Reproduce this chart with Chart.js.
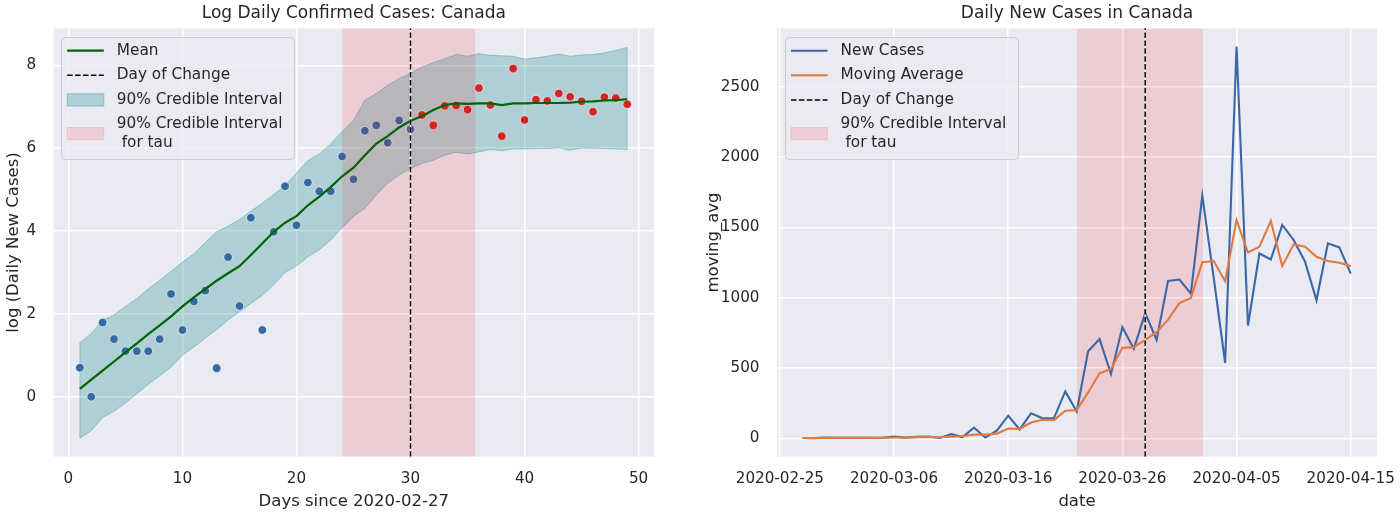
<!DOCTYPE html>
<html>
<head>
<meta charset="utf-8">
<script src="https://cdn.jsdelivr.net/npm/chart.js@4.4.1/dist/chart.umd.min.js"></script>
<style>
html, body { margin: 0; padding: 0; background: #ffffff; }
#wrap { position: relative; width: 1400px; height: 516px; overflow: hidden; }
canvas { position: absolute; top: 0; }
#c1 { left: 0; }
#c2 { left: 700px; }
</style>
</head>
<body>
<div id="wrap">
  <canvas id="c1" width="700" height="516"></canvas>
  <canvas id="c2" width="700" height="516"></canvas>
</div>
<script>
// ================= LEFT PANEL DATA =================
const days = [1,2,3,4,5,6,7,8,9,10,11,12,13,14,15,16,17,18,19,20,21,22,23,24,25,
              26,27,28,29,30,31,32,33,34,35,36,37,38,39,40,41,42,43,44,45,46,47,48,49];
const logCases = [0.70,0.00,1.79,1.39,1.10,1.10,1.10,1.39,2.48,1.61,2.30,2.56,0.69,3.37,2.19,4.32,1.61,3.98,5.08,4.14,
                  5.17,4.96,4.96,5.80,5.25,6.42,6.55,6.13,6.67,6.46,6.80,6.55,7.02,7.03,6.93,7.45,7.04,6.29,7.92,6.68,
                  7.17,7.14,7.32,7.24,7.13,6.88,7.23,7.21,7.06];
const meanLog = [0.19,0.41,0.63,0.85,1.07,1.29,1.51,1.72,1.94,2.18,2.40,2.60,2.80,2.98,3.15,3.42,3.70,3.98,4.20,4.36,
                 4.62,4.83,5.06,5.32,5.53,5.83,6.11,6.29,6.50,6.66,6.77,6.92,7.04,7.08,7.07,7.08,7.08,7.04,7.08,7.08,
                 7.09,7.09,7.09,7.10,7.12,7.13,7.15,7.16,7.18];
const upperCI = [1.31,1.52,1.84,1.98,2.18,2.37,2.60,2.81,3.02,3.25,3.45,3.72,3.98,4.12,4.28,4.48,4.67,4.88,5.10,5.40,
                 5.70,5.86,6.10,6.40,6.67,7.16,7.32,7.52,7.68,7.80,7.96,8.06,8.16,8.26,8.22,8.28,8.24,8.23,8.22,8.15,
                 8.18,8.22,8.27,8.22,8.25,8.26,8.30,8.36,8.43];
const lowerCI = [-1.00,-0.82,-0.50,-0.35,-0.15,0.07,0.30,0.50,0.72,1.00,1.20,1.42,1.62,1.85,2.05,2.25,2.45,2.70,3.00,3.15,
                 3.38,3.55,3.78,4.08,4.35,4.55,4.87,5.15,5.35,5.51,5.63,5.71,5.83,5.90,5.86,5.91,5.97,5.94,5.98,5.98,
                 5.99,5.99,6.01,5.95,6.00,6.00,5.99,5.98,5.97];
const leftChangeDay = 30;
const leftTauLow = 24.0;
const leftTauHigh = 35.7;
const leftXTicks = [0,10,20,30,40,50];
const leftYTicks = [0,2,4,6,8];

// ================= RIGHT PANEL DATA =================
const dates = ['2020-02-27','2020-02-28','2020-02-29','2020-03-01','2020-03-02','2020-03-03','2020-03-04','2020-03-05',
               '2020-03-06','2020-03-07','2020-03-08','2020-03-09','2020-03-10','2020-03-11','2020-03-12','2020-03-13',
               '2020-03-14','2020-03-15','2020-03-16','2020-03-17','2020-03-18','2020-03-19','2020-03-20','2020-03-21',
               '2020-03-22','2020-03-23','2020-03-24','2020-03-25','2020-03-26','2020-03-27','2020-03-28','2020-03-29',
               '2020-03-30','2020-03-31','2020-04-01','2020-04-02','2020-04-03','2020-04-04','2020-04-05','2020-04-06',
               '2020-04-07','2020-04-08','2020-04-09','2020-04-10','2020-04-11','2020-04-12','2020-04-13','2020-04-14',
               '2020-04-15'];
const newCases = [2,1,6,4,3,3,3,4,12,5,10,13,2,29,9,75,5,54,161,63,177,142,142,333,190,619,705,457,790,636,
                  890,700,1119,1129,1029,1726,1140,536,2786,802,1314,1271,1517,1410,1255,981,1386,1357,1171];
const movingAvg = [2,2,3,3,3,3,3,4,5,6,7,8,7,12,14,26,26,33,69,67,112,132,129,196,200,326,462,493,643,648,
                   700,755,843,962,998,1252,1260,1117,1552,1321,1362,1545,1224,1379,1362,1290,1260,1248,1224];
const rightBaseDate = '2020-02-25';
const rightChangeDay = 32.0;   // days after 2020-02-25 (2020-03-28)
const rightTauLow = 26.0;      // days after 2020-02-25
const rightTauHigh = 37.07;    // days after 2020-02-25
const rightXTickLabels = ['2020-02-25','2020-03-06','2020-03-16','2020-03-26','2020-04-05','2020-04-15'];
const rightYTicks = [0,500,1000,1500,2000,2500];

// ================= STYLE / LAYOUT =================
const FONT = 'DejaVu Sans';
const TEXT = '#262626';
const BG = '#eaeaf2';
const TEAL_FILL = 'rgba(0,128,128,0.25)';
const TEAL_EDGE = 'rgba(0,128,128,0.32)';
const TAU_FILL = 'rgba(255,0,0,0.12)';
const BLUE_PT = '#336aa2';
const RED_PT = '#d0262a';

const leftXMin = -1.3, leftXMax = 51.35, leftYMin = -1.448, leftYMax = 8.893;
const rightXMin = -0.25, rightXMax = 52.3, rightYMin = -131, rightYMax = 2915;

Chart.defaults.font.family = FONT;
Chart.defaults.color = TEXT;

const dayOffset = s => Math.round((Date.parse(s + 'T00:00:00Z') - Date.parse(rightBaseDate + 'T00:00:00Z')) / 86400000);

const plotBg = {
  id: 'plotBg',
  beforeDraw(chart) {
    const {ctx, chartArea: a} = chart;
    ctx.save();
    ctx.fillStyle = BG;
    ctx.fillRect(a.left, a.top, a.right - a.left, a.bottom - a.top);
    ctx.restore();
  }
};

const titleOverPlot = {
  id: 'titleOverPlot',
  afterLayout(chart) {
    const t = chart.titleBlock;
    if (t) { t.left = chart.chartArea.left; t.right = chart.chartArea.right; }
  }
};

const boxLegend = {
  id: 'boxLegend',
  afterDraw(chart, args, o) {
    if (!o || !o.items) return;
    const ctx = chart.ctx, ca = chart.chartArea;
    const ds = chart.data.datasets;
    const find = lbl => ds.find(d => d.label === lbl);
    ctx.save();
    ctx.font = o.fontSize + 'px "' + o.fontFamily + '"';
    let maxW = 0, extra = 0;
    o.items.forEach(it => { extra += it.text.length - 1; it.text.forEach(t => { maxW = Math.max(maxW, ctx.measureText(t).width); }); });
    const x0 = ca.left + o.offsetX, y0 = ca.top + o.offsetY;
    const w = o.textX + maxW + o.rightPad;
    const h = o.firstRow + (o.items.length - 1) * o.rowGap + extra * o.lineGap + o.bottomPad;
    ctx.beginPath();
    ctx.roundRect(Math.round(x0) + 0.5, Math.round(y0) + 0.5, Math.round(w), Math.round(h), o.radius);
    ctx.fillStyle = o.frameFill; ctx.fill();
    ctx.lineWidth = 1; ctx.strokeStyle = o.frameEdge; ctx.stroke();
    let y = y0 + o.firstRow;
    o.items.forEach(it => {
      const d = find(it.label);
      const nl = it.text.length;
      const cy = y + (nl - 1) * o.lineGap / 2;
      const hx0 = x0 + o.handleX, hx1 = hx0 + o.handleW;
      if (it.kind === 'patch') {
        ctx.fillStyle = d.backgroundColor;
        ctx.fillRect(hx0, cy - o.patchH / 2, o.handleW, o.patchH);
        ctx.strokeStyle = d.legendEdge || d.borderColor; ctx.lineWidth = 1;
        ctx.strokeRect(hx0, cy - o.patchH / 2, o.handleW, o.patchH);
      } else {
        ctx.beginPath();
        ctx.setLineDash(d.borderDash || []);
        ctx.strokeStyle = d.borderColor; ctx.lineWidth = d.borderWidth;
        ctx.moveTo(hx0, cy); ctx.lineTo(hx1, cy); ctx.stroke();
        ctx.setLineDash([]);
      }
      ctx.fillStyle = o.color; ctx.textBaseline = 'middle'; ctx.textAlign = 'left';
      it.text.forEach((t, k) => ctx.fillText(t, x0 + o.textX, y + k * o.lineGap));
      y += o.rowGap + (nl - 1) * o.lineGap;
    });
    ctx.restore();
  }
};

const legendBase = {
  offsetX: 7.4, offsetY: 8.4, firstRow: 14, rowGap: 24.6, lineGap: 18.3, bottomPad: 16,
  handleX: 6.2, handleW: 36.6, textX: 55.8, rightPad: 11.2, patchH: 12.3,
  fontSize: 15.3, fontFamily: FONT, color: TEXT,
  frameFill: 'rgba(234,234,242,0.8)', frameEdge: '#cccccc', radius: 4
};

const fixX = h => s => { s.height = h; s.paddingLeft = 0; s.paddingRight = 0; };
const fixY = w => s => { s.width = w; s.paddingTop = 0; s.paddingBottom = 0; };

const gridOpts = { color: '#ffffff', lineWidth: 1.5, drawTicks: false };
const tickFont = { size: 15.2, family: FONT };
const axisTitleFont = { size: 16.5, family: FONT };
const titleFont = { size: 17, family: FONT, weight: 'normal', lineHeight: 1.2 };

// ================= LEFT CHART =================
const xy = (xs, ys) => xs.map((x, i) => ({x: x, y: ys[i]}));

new Chart(document.getElementById('c1'), {
  type: 'line',
  data: {
    datasets: [
      { label: 'lower', data: xy(days, lowerCI), borderColor: TEAL_EDGE, borderWidth: 1, pointRadius: 0, fill: false, order: 10 },
      { label: '90% Credible Interval', data: xy(days, upperCI), borderColor: TEAL_EDGE, borderWidth: 1, pointRadius: 0,
        backgroundColor: TEAL_FILL, fill: { target: 0 }, order: 9 },
      { label: 'ciEnds', data: [{x: days[0], y: lowerCI[0]}, {x: days[0], y: upperCI[0]}, {x: days[0], y: null},
                                {x: days[days.length-1], y: lowerCI[lowerCI.length-1]}, {x: days[days.length-1], y: upperCI[upperCI.length-1]}],
        borderColor: TEAL_EDGE, borderWidth: 1, pointRadius: 0, spanGaps: false, fill: false, order: 8 },
      { label: 'points', data: xy(days, logCases), showLine: false, order: 7,
        pointRadius: 4.3, pointBorderWidth: 0.8, pointBorderColor: 'rgba(255,255,255,0.8)',
        pointBackgroundColor: c => (c.raw && c.raw.x <= leftChangeDay) ? BLUE_PT : RED_PT },
      { label: '90% Credible Interval for tau', data: [{x: leftTauLow, y: leftYMax}, {x: leftTauHigh, y: leftYMax}],
        borderWidth: 0, borderColor: TAU_FILL, legendEdge: TAU_FILL, backgroundColor: TAU_FILL, fill: 'start', pointRadius: 0, order: 6 },
      { label: 'Mean', data: xy(days, meanLog), borderColor: '#006400', borderWidth: 2.2, pointRadius: 0, fill: false, order: 5 },
      { label: 'changeUnder', data: [{x: leftChangeDay, y: leftYMin}, {x: leftChangeDay, y: leftYMax}],
        borderColor: 'rgba(255,255,255,0.85)', borderWidth: 1.6, pointRadius: 0, fill: false, order: 4 },
      { label: 'Day of Change', data: [{x: leftChangeDay, y: leftYMin}, {x: leftChangeDay, y: leftYMax}],
        borderColor: '#000000', borderWidth: 1.5, borderDash: [5.5, 2.4], pointRadius: 0, fill: false, order: 3 }
    ]
  },
  options: {
    responsive: false, animation: false,
    layout: { padding: { left: 0, right: 46, top: 0, bottom: 0 } },
    elements: { line: { tension: 0 } },
    plugins: {
      legend: { display: false }, tooltip: { enabled: false },
      title: { display: true, text: 'Log Daily Confirmed Cases: Canada', color: TEXT, font: titleFont,
               padding: { top: 2.9, bottom: 5.0 } },
      boxLegend: Object.assign({}, legendBase, { items: [
        { label: 'Mean', kind: 'line', text: ['Mean'] },
        { label: 'Day of Change', kind: 'line', text: ['Day of Change'] },
        { label: '90% Credible Interval', kind: 'patch', text: ['90% Credible Interval'] },
        { label: '90% Credible Interval for tau', kind: 'patch', text: ['90% Credible Interval', ' for tau'] }
      ] })
    },
    scales: {
      x: { type: 'linear', min: leftXMin, max: leftXMax, grid: gridOpts, border: { display: false },
           afterBuildTicks: s => { s.ticks = leftXTicks.map(v => ({value: v})); },
           afterFit: fixX(59.3),
           ticks: { font: tickFont, color: TEXT, padding: 13.6, maxRotation: 0, minRotation: 0, autoSkip: false, callback: v => String(v) },
           title: { display: true, text: 'Days since 2020-02-27', color: TEXT, font: axisTitleFont, padding: { top: 0, bottom: 4.8 } } },
      y: { type: 'linear', min: leftYMin, max: leftYMax, grid: gridOpts, border: { display: false },
           afterBuildTicks: s => { s.ticks = leftYTicks.map(v => ({value: v})); },
           afterFit: fixY(53.6),
           ticks: { font: tickFont, color: TEXT, padding: 17.5, callback: v => String(v) },
           title: { display: true, text: 'log (Daily New Cases)', color: TEXT, font: axisTitleFont, padding: { top: 3.5, bottom: 0 } } }
    }
  },
  plugins: [plotBg, titleOverPlot, boxLegend]
});

// ================= RIGHT CHART =================
const rightX = dates.map(dayOffset);
const rightTickVals = rightXTickLabels.map(dayOffset);

new Chart(document.getElementById('c2'), {
  type: 'line',
  data: {
    datasets: [
      { label: '90% Credible Interval for tau', data: [{x: rightTauLow, y: rightYMax}, {x: rightTauHigh, y: rightYMax}],
        borderWidth: 0, borderColor: TAU_FILL, legendEdge: TAU_FILL, backgroundColor: TAU_FILL, fill: 'start', pointRadius: 0, order: 6 },
      { label: 'New Cases', data: xy(rightX, newCases), borderColor: '#3d66a6', borderWidth: 2.1, pointRadius: 0, fill: false, order: 5 },
      { label: 'Moving Average', data: xy(rightX, movingAvg), borderColor: '#e07a3e', borderWidth: 2.1, pointRadius: 0, fill: false, order: 4 },
      { label: 'changeUnder', data: [{x: rightChangeDay, y: rightYMin}, {x: rightChangeDay, y: rightYMax}],
        borderColor: 'rgba(255,255,255,0.85)', borderWidth: 1.6, pointRadius: 0, fill: false, order: 3 },
      { label: 'Day of Change', data: [{x: rightChangeDay, y: rightYMin}, {x: rightChangeDay, y: rightYMax}],
        borderColor: '#000000', borderWidth: 1.5, borderDash: [5.5, 2.4], pointRadius: 0, fill: false, order: 2 }
    ]
  },
  options: {
    responsive: false, animation: false,
    layout: { padding: { left: 0, right: 23, top: 0, bottom: 0 } },
    elements: { line: { tension: 0 } },
    plugins: {
      legend: { display: false }, tooltip: { enabled: false },
      title: { display: true, text: 'Daily New Cases in Canada', color: TEXT, font: titleFont,
               padding: { top: 2.9, bottom: 5.0 } },
      boxLegend: Object.assign({}, legendBase, { offsetX: 7.8, items: [
        { label: 'New Cases', kind: 'line', text: ['New Cases'] },
        { label: 'Moving Average', kind: 'line', text: ['Moving Average'] },
        { label: 'Day of Change', kind: 'line', text: ['Day of Change'] },
        { label: '90% Credible Interval for tau', kind: 'patch', text: ['90% Credible Interval', ' for tau'] }
      ] })
    },
    scales: {
      x: { type: 'linear', min: rightXMin, max: rightXMax, grid: gridOpts, border: { display: false },
           afterBuildTicks: s => { s.ticks = rightTickVals.map(v => ({value: v})); },
           afterFit: fixX(59.3),
           ticks: { font: tickFont, color: TEXT, padding: 13.6, maxRotation: 0, minRotation: 0, autoSkip: false,
                    callback: v => { const i = rightTickVals.indexOf(v); return i >= 0 ? rightXTickLabels[i] : ''; } },
           title: { display: true, text: 'date', color: TEXT, font: axisTitleFont, padding: { top: 0, bottom: 4.8 } } },
      y: { type: 'linear', min: rightYMin, max: rightYMax, grid: gridOpts, border: { display: false },
           afterBuildTicks: s => { s.ticks = rightYTicks.map(v => ({value: v})); },
           afterFit: fixY(77),
           ticks: { font: tickFont, color: TEXT, padding: 17.5, callback: v => String(v) },
           title: { display: true, text: 'moving_avg', color: TEXT, font: axisTitleFont, padding: { top: 3.5, bottom: 0 } } }
    }
  },
  plugins: [plotBg, titleOverPlot, boxLegend]
});
</script>
</body>
</html>
